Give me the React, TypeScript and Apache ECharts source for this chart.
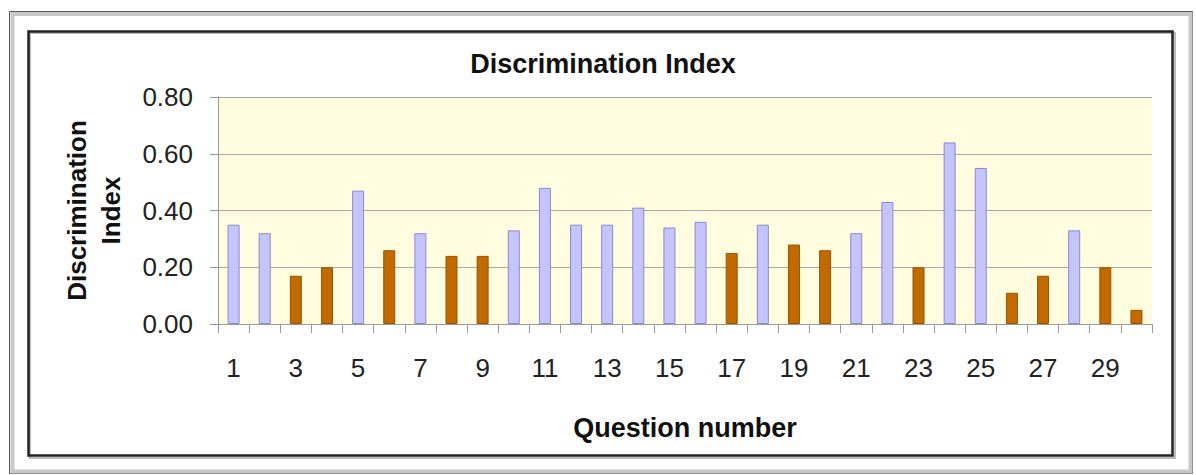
import React, { useEffect, useRef } from "react";
import * as echarts from "echarts";

const questions = ["1","2","3","4","5","6","7","8","9","10","11","12","13","14","15","16","17","18","19","20","21","22","23","24","25","26","27","28","29","30"];
const discrimination = [0.35,0.32,0.17,0.20,0.47,0.26,0.32,0.24,0.24,0.33,0.48,0.35,0.35,0.41,0.34,0.36,0.25,0.35,0.28,0.26,0.32,0.43,0.20,0.64,0.55,0.11,0.17,0.33,0.20,0.05];
const threshold = 0.3;
const yTicks = [0, 0.2, 0.4, 0.6, 0.8];

const FONT = "'Liberation Sans', Arial, sans-serif";

export default function App() {
  const ref = useRef<HTMLDivElement>(null);
  useEffect(() => {
    if (!ref.current) return;
    const chart = echarts.init(ref.current, null, { renderer: "svg" });
    const data = discrimination.map((v) => ({
      value: v,
      itemStyle:
        v >= threshold
          ? { color: "#C4C4FF", borderColor: "#8A8AC8", borderWidth: 1 }
          : { color: "#C06A00", borderColor: "#9A5400", borderWidth: 1 },
    }));
    chart.setOption({
      animation: false,
      backgroundColor: "#ffffff",
      textStyle: { fontFamily: FONT },
      title: {
        text: "Discrimination Index",
        left: 598,
        textAlign: "center",
        top: 45,
        textStyle: { fontFamily: FONT, fontSize: 27, fontWeight: "bold", color: "#111" },
      },
      graphic: [
        { type: "rect", shape: { x: 9.5, y: 11.5, width: 1183, height: 462 }, style: { fill: "none", stroke: "#555", lineWidth: 1 }, z: 10 },
        { type: "rect", shape: { x: 12.5, y: 14, width: 1178, height: 457.5 }, style: { fill: "none", stroke: "#C8C8C8", lineWidth: 4 }, z: 10 },
        { type: "rect", shape: { x: 30, y: 33, width: 1145, height: 425 }, style: { fill: "none", stroke: "#BBBBBB", lineWidth: 2 }, z: 10 },
        { type: "rect", shape: { x: 28.5, y: 31.5, width: 1144, height: 424 }, style: { fill: "none", stroke: "#222", lineWidth: 2.5 }, z: 11 },
      ],
      grid: {
        left: 218,
        right: 44,
        top: 97,
        bottom: 151,
        show: true,
        backgroundColor: "#FFFCDF",
        borderWidth: 0,
      },
      xAxis: {
        type: "category",
        data: questions,
        name: "Question number",
        nameLocation: "middle",
        nameGap: 90,
        nameTextStyle: { fontFamily: FONT, fontSize: 27, fontWeight: "bold", color: "#111" },
        axisLine: { show: true, lineStyle: { color: "#999", width: 1 } },
        axisTick: { show: true, interval: 0, length: 9, lineStyle: { color: "#999" } },
        axisLabel: { interval: 1, margin: 31, fontFamily: FONT, fontSize: 26, color: "#222" },
        splitLine: { show: false },
      },
      yAxis: {
        type: "value",
        min: 0,
        max: 0.8,
        interval: 0.2,
        name: "Discrimination\nIndex",
        nameLocation: "middle",
        nameRotate: 90,
        nameGap: 90,
        nameTextStyle: { fontFamily: FONT, fontSize: 26, fontWeight: "bold", color: "#111", lineHeight: 34 },
        axisLine: { show: true, lineStyle: { color: "#999", width: 1 } },
        axisTick: { show: true, length: 8, lineStyle: { color: "#999" } },
        axisLabel: {
          margin: 25,
          fontFamily: FONT,
          fontSize: 26,
          color: "#222",
          formatter: (v: number) => (yTicks.some((t) => Math.abs(t - v) < 1e-9) ? v.toFixed(2) : ""),
        },
        splitLine: { show: true, lineStyle: { color: "#A8A8A8", width: 1 } },
      },
      series: [
        {
          type: "bar",
          data,
          barWidth: 12,
        },
      ],
    });
    return () => chart.dispose();
  }, []);
  return (
    <div
      ref={ref}
      style={{ position: "fixed", left: 0, top: 0, width: 1196, height: 475, background: "#fff" }}
    />
  );
}
